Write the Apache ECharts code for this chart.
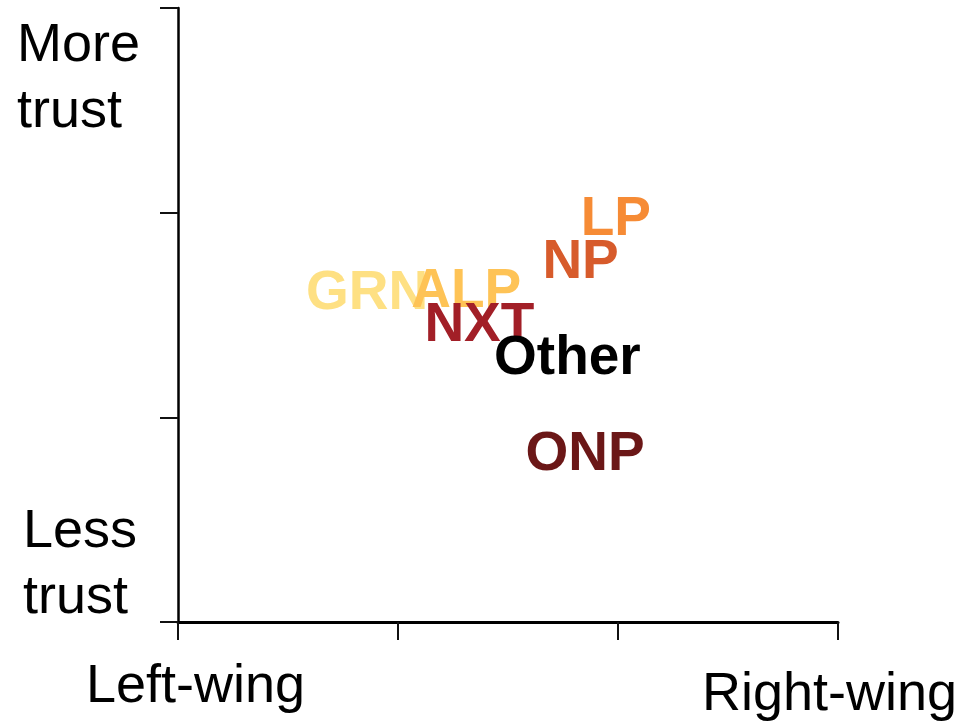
<!DOCTYPE html>
<html>
<head>
<meta charset="utf-8">
<script src="https://cdn.jsdelivr.net/npm/echarts@6/dist/echarts.min.js"></script>
<style>
  html, body { margin: 0; padding: 0; background: #fff; }
  #chart { width: 970px; height: 725px; }
</style>
</head>
<body>
<div id="chart"></div>
<script>
// parties placed on ideology (x, 0 = left, 3 = right) and trust (y, 0 = less, 3 = more)
var parties = ['GRN', 'ALP', 'NXT', 'Other', 'NP', 'LP', 'ONP'];
var ideology = [0.86, 1.31, 1.37, 1.77, 1.83, 1.99, 1.85];
var trust = [1.605, 1.615, 1.445, 1.285, 1.755, 1.965, 0.815];
var partyColors = ['#fee083', '#fec356', '#a21f27', '#000000', '#d75b2b', '#f68b35', '#6b1717'];

var chart = echarts.init(document.getElementById('chart'));

var points = [];
for (var i = 0; i < parties.length; i++) {
    points.push({
        value: [ideology[i], trust[i]],
        name: parties[i],
        label: { color: partyColors[i] }
    });
}

var txt = { fontFamily: 'Liberation Sans, Arial, sans-serif', fontSize: 54, fill: '#000' };

var option = {
    animation: false,
    backgroundColor: '#fff',
    grid: { left: 178, right: 132, top: 8, bottom: 103 },
    xAxis: {
        type: 'value', min: 0, max: 3, interval: 1,
        axisLine: { show: true, onZero: false, lineStyle: { color: '#000', width: 3 } },
        axisTick: { show: true, length: 18, lineStyle: { color: '#111', width: 2 } },
        axisLabel: { show: false },
        splitLine: { show: false }
    },
    yAxis: {
        type: 'value', min: 0, max: 3, interval: 1,
        axisLine: { show: true, onZero: false, lineStyle: { color: '#000', width: 2.5 } },
        axisTick: { show: true, length: 18, lineStyle: { color: '#111', width: 2 } },
        axisLabel: { show: false },
        splitLine: { show: false }
    },
    graphic: [
        { type: 'text', left: 17, top: 13, style: Object.assign({ text: 'More\ntrust', lineHeight: 66 }, txt) },
        { type: 'text', left: 23, top: 499, style: Object.assign({ text: 'Less\ntrust', lineHeight: 66 }, txt) },
        { type: 'text', left: 86, top: 660, style: Object.assign({ text: 'Left-wing' }, txt) },
        { type: 'text', left: 702, top: 668, style: Object.assign({ text: 'Right-wing' }, txt) }
    ],
    series: [
        {
            type: 'scatter',
            symbolSize: 0,
            itemStyle: { opacity: 1 },
            emphasis: { disabled: true },
            data: points,
            label: {
                show: true,
                position: 'inside',
                formatter: '{b}',
                opacity: 1,
                fontFamily: 'Liberation Sans, Arial, sans-serif',
                fontWeight: 'bold',
                fontSize: 55
            }
        }
    ]
};

chart.setOption(option);
</script>
</body>
</html>
